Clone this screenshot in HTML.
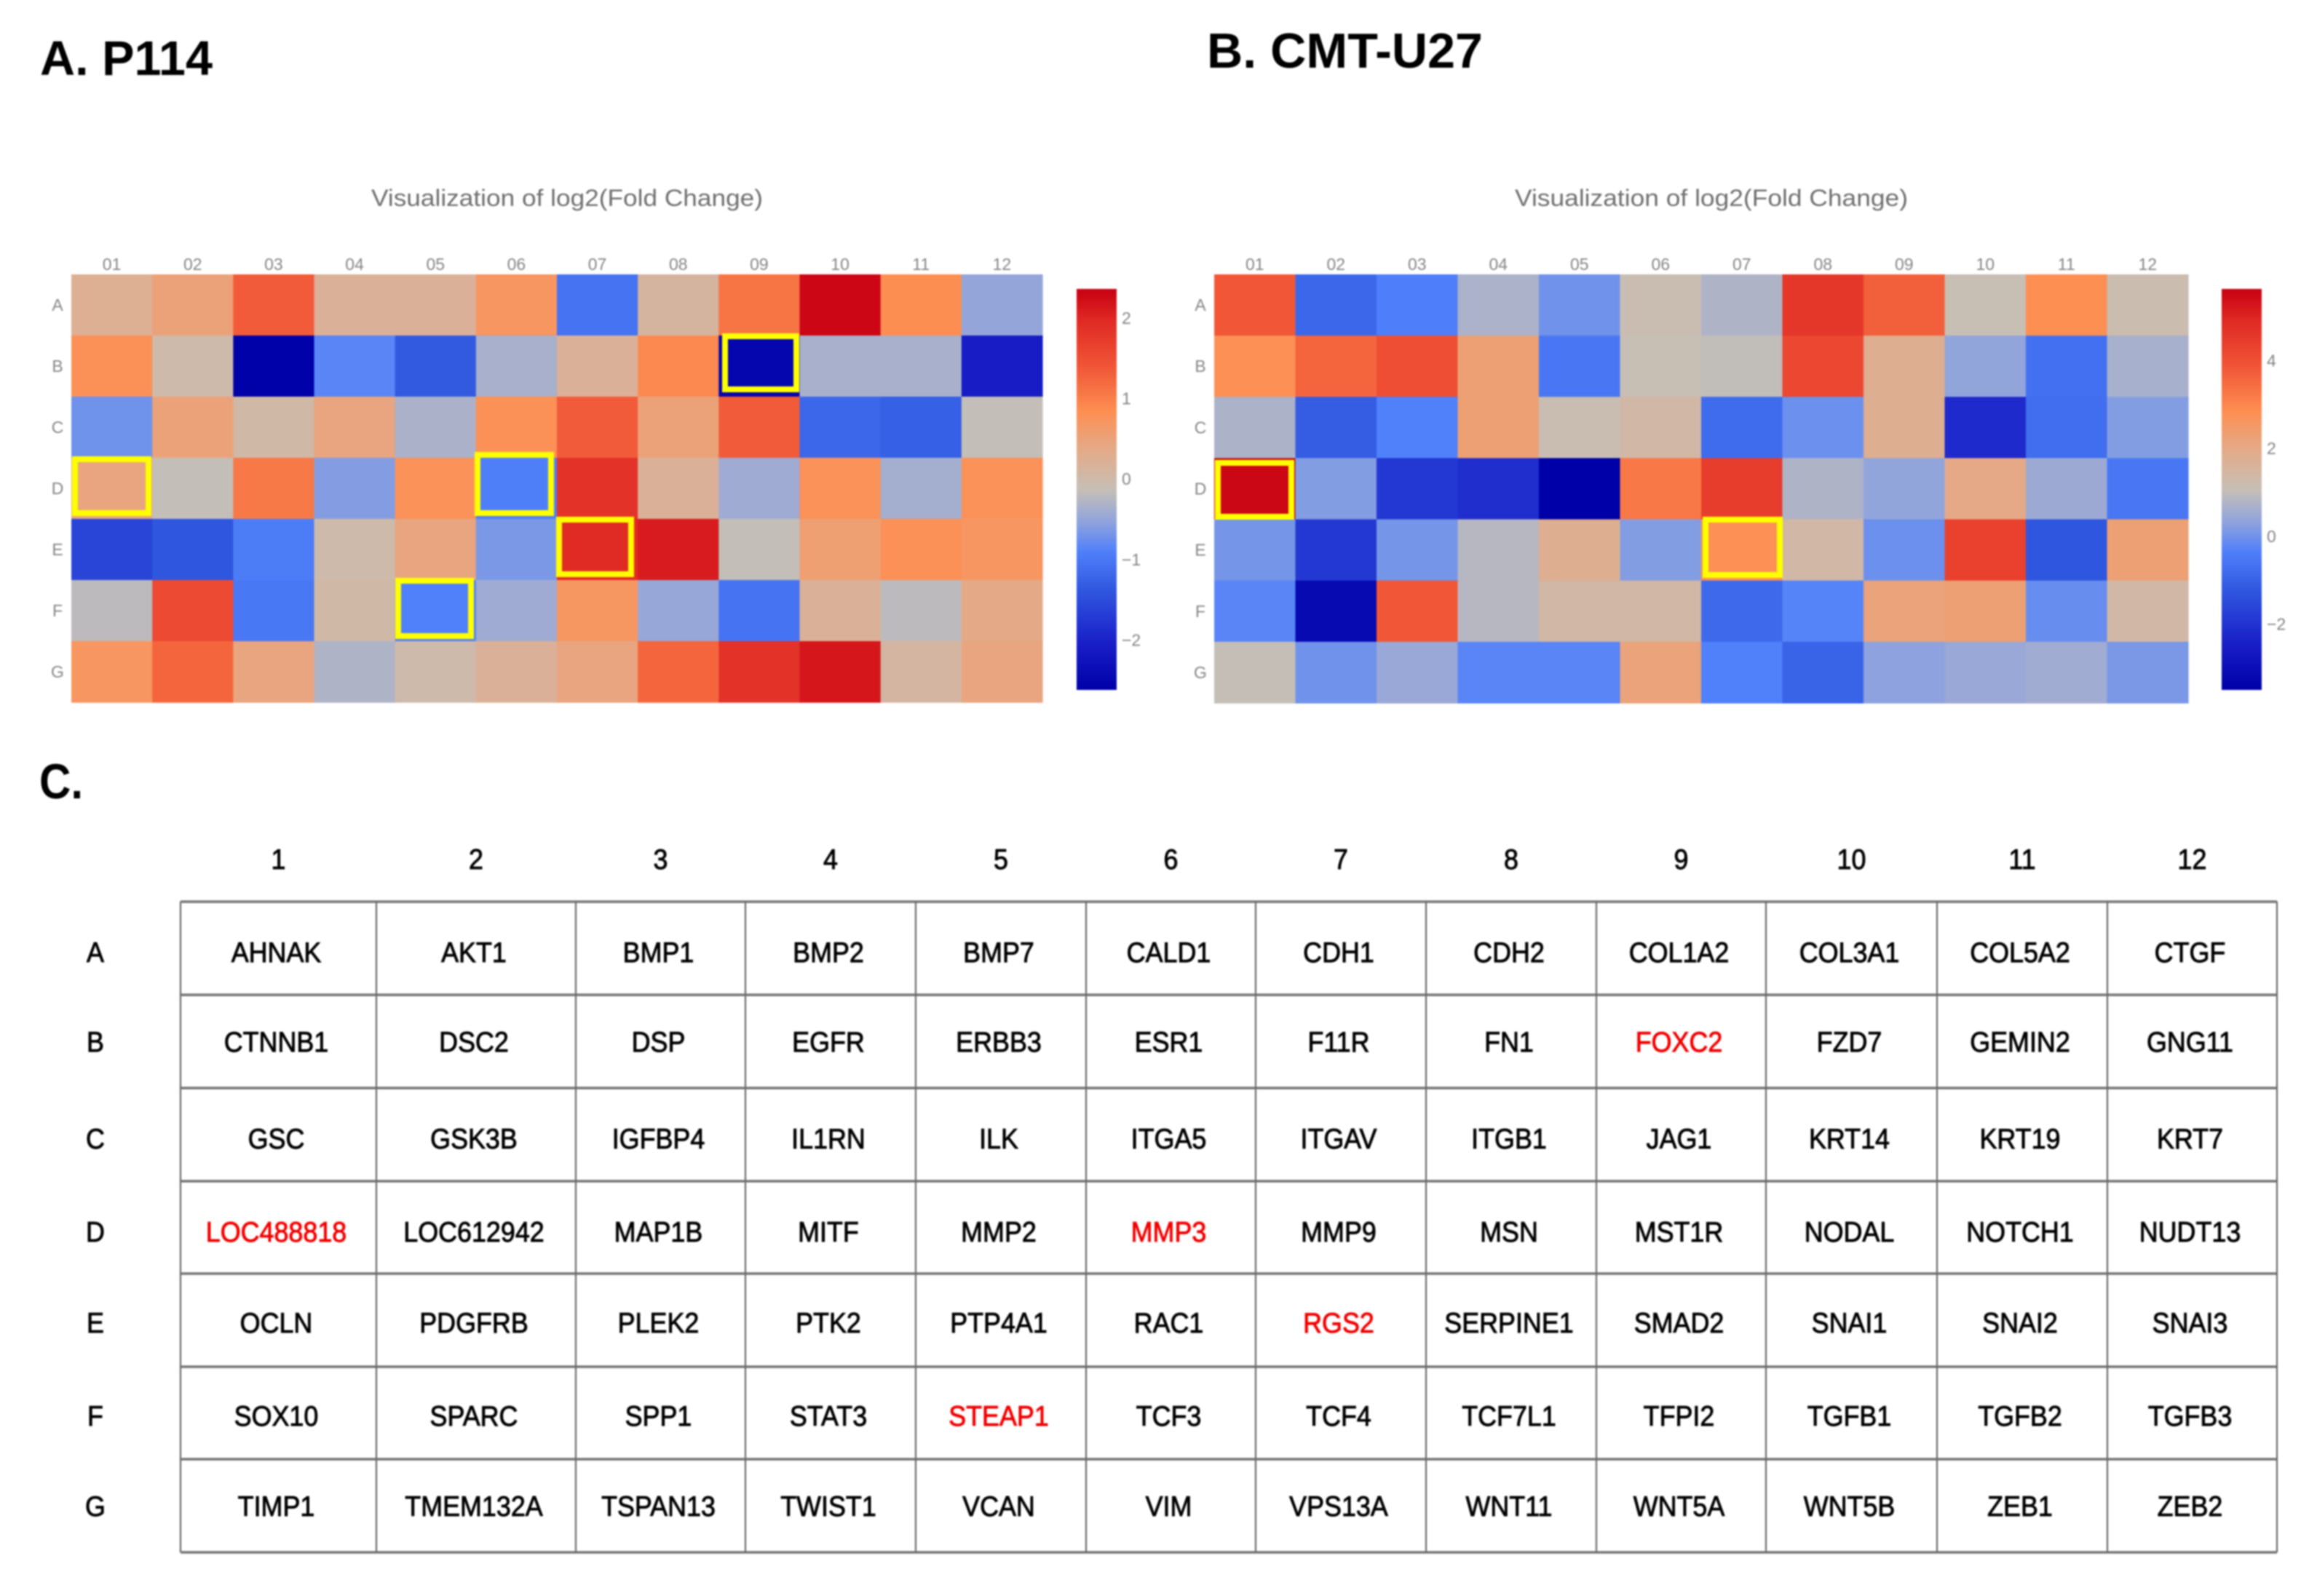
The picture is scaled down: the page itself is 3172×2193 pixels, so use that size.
<!DOCTYPE html>
<html lang="en">
<head>
<meta charset="utf-8">
<title>log2(Fold Change) heatmaps for P114 and CMT-U27</title>
<style>
html,body{margin:0;padding:0;background:#fff;}
body{width:3172px;height:2193px;overflow:hidden;}
svg{display:block;filter:blur(1.1px);}
text{font-family:"Liberation Sans",sans-serif;}
</style>
</head>
<body>
<svg id="figure" xmlns="http://www.w3.org/2000/svg" width="3172" height="2193" viewBox="0 0 3172 2193">
  <defs>
    <linearGradient id="cbar" x1="0" y1="1" x2="0" y2="0"></linearGradient>
  </defs>
  <rect width="3172" height="2193" fill="#fff"/>
  <text x="55" y="103" font-size="67" font-weight="bold" textLength="237" lengthAdjust="spacingAndGlyphs" fill="#000">A. P114</text>
  <text x="1658" y="93" font-size="68" font-weight="bold" textLength="379" lengthAdjust="spacingAndGlyphs" fill="#000">B. CMT-U27</text>
  <text x="54" y="1097" font-size="68" font-weight="bold" textLength="60" lengthAdjust="spacingAndGlyphs" fill="#000">C.</text>
  <text x="510" y="283" font-size="32" textLength="538" lengthAdjust="spacingAndGlyphs" fill="#6f6f6f">Visualization of log2(Fold Change)</text>
  <text x="2081" y="283" font-size="32" textLength="540" lengthAdjust="spacingAndGlyphs" fill="#6f6f6f">Visualization of log2(Fold Change)</text>
  <g id="heatmapA"></g>
  <g id="heatmapB"></g>
  <g id="highlights" fill="none" stroke="#ffff00" stroke-width="8">
    <rect x="996" y="462" width="98" height="73"/>
    <rect x="103" y="631" width="101" height="74"/>
    <rect x="656" y="625" width="101" height="80"/>
    <rect x="768" y="714" width="99" height="75"/>
    <rect x="547" y="798" width="100" height="76"/>
    <rect x="1673" y="636" width="101" height="74"/>
    <rect x="2343" y="714" width="102" height="76"/>
  </g>
  <g id="geneTable"></g>
</svg>
<script>
// ---- Shared heatmap categories ----
const columnLabels = ["01","02","03","04","05","06","07","08","09","10","11","12"];
const rowLabels = ["A","B","C","D","E","F","G"];

// ---- Panel A values: log2(fold change) for P114 ----
const valuesA = [
  [0.25,0.5,1.35,0.2,0.2,0.72,-1.05,0.12,1.1,2.3,0.85,-0.5],
  [0.8,0.0,-2.6,-0.85,-1.35,-0.35,0.2,0.9,-2.5,-0.35,-0.35,-2.1],
  [-0.72,0.5,0.03,0.45,-0.33,0.8,1.35,0.5,1.35,-1.2,-1.28,-0.15],
  [0.45,-0.15,1.05,-0.6,0.78,-0.92,1.85,0.2,-0.42,0.78,-0.38,0.78],
  [-1.6,-1.4,-0.95,0.0,0.45,-0.65,1.95,2.1,-0.15,0.55,0.8,0.72],
  [-0.2,1.55,-1.0,0.03,-0.9,-0.42,0.7,-0.48,-1.05,0.2,-0.2,0.37],
  [0.72,1.25,0.45,-0.3,0.0,0.2,0.45,1.25,1.85,2.15,0.1,0.45]
];
const rangeA = [-2.62, 2.36];
const ticksA = [2,1,0,-1,-2];

// ---- Panel B values: log2(fold change) for CMT-U27 ----
const valuesB = [
  [3.85,-0.9,-0.4,0.7,0.0,1.15,0.75,4.6,3.7,1.1,2.85,1.2],
  [2.8,3.6,4.05,2.3,-0.55,1.1,1.0,4.2,1.8,0.35,-0.7,0.65],
  [0.72,-1.1,-0.35,2.3,1.15,1.4,-0.8,-0.05,1.8,-2.2,-0.75,0.2],
  [5.5,0.2,-1.9,-2.1,-3.5,3.25,4.45,0.75,0.35,2.0,0.5,-0.55],
  [0.05,-1.9,0.05,0.85,1.8,0.2,2.8,1.4,-0.05,4.35,-1.25,2.3],
  [-0.25,-3.2,3.85,0.85,1.4,1.4,-0.85,-0.3,2.2,2.3,-0.1,1.4],
  [1.05,0.0,0.45,-0.25,-0.25,2.2,-0.35,-0.95,0.3,0.45,0.55,0.1]
];
const rangeB = [-3.5, 5.63];
const ticksB = [4,2,0,-2];

// ---- Colour scale (fraction of range, colour) ----
const colorFractions = [0,0.12,0.25,0.345,0.42,0.5,0.6,0.695,0.81,0.92,1];
const colorHexes = ["#0000a8","#1a20c8","#3058e0","#5080fa","#90a4dc","#c6bfb6","#e4aa88","#fd8f52","#f05436","#e02a24","#c80012"];

// ---- Table contents ----
const tableColumnLabels = ["1","2","3","4","5","6","7","8","9","10","11","12"];
const geneNames = [
  ["AHNAK","AKT1","BMP1","BMP2","BMP7","CALD1","CDH1","CDH2","COL1A2","COL3A1","COL5A2","CTGF"],
  ["CTNNB1","DSC2","DSP","EGFR","ERBB3","ESR1","F11R","FN1","FOXC2","FZD7","GEMIN2","GNG11"],
  ["GSC","GSK3B","IGFBP4","IL1RN","ILK","ITGA5","ITGAV","ITGB1","JAG1","KRT14","KRT19","KRT7"],
  ["LOC488818","LOC612942","MAP1B","MITF","MMP2","MMP3","MMP9","MSN","MST1R","NODAL","NOTCH1","NUDT13"],
  ["OCLN","PDGFRB","PLEK2","PTK2","PTP4A1","RAC1","RGS2","SERPINE1","SMAD2","SNAI1","SNAI2","SNAI3"],
  ["SOX10","SPARC","SPP1","STAT3","STEAP1","TCF3","TCF4","TCF7L1","TFPI2","TGFB1","TGFB2","TGFB3"],
  ["TIMP1","TMEM132A","TSPAN13","TWIST1","VCAN","VIM","VPS13A","WNT11","WNT5A","WNT5B","ZEB1","ZEB2"]
];
const redGenes = ["LOC488818","MMP3","RGS2","FOXC2","STEAP1"];
const tableColEdges = [248,517,791,1024,1258,1492,1725,1959,2193,2426,2661,2895,3128];
const tableRowEdges = [1239,1367,1495,1623,1750,1878,2005,2133];
const tableTextCentres = [1308,1431,1564,1692,1817,1945,2069];

const NS = "http://www.w3.org/2000/svg";
function make(tag, attrs, parent, text){
  const n = document.createElementNS(NS, tag);
  for (const k in attrs) n.setAttribute(k, attrs[k]);
  if (text !== undefined) n.textContent = text;
  parent.appendChild(n);
  return n;
}
function hexToRgb(h){ return [1,3,5].map(i => parseInt(h.substr(i,2),16)); }
function colorAt(t){
  t = Math.max(0, Math.min(1, t));
  for (let i = 1; i < colorFractions.length; i++){
    if (t <= colorFractions[i]){
      const f = (t - colorFractions[i-1]) / (colorFractions[i] - colorFractions[i-1]);
      const a = hexToRgb(colorHexes[i-1]), b = hexToRgb(colorHexes[i]);
      return "rgb(" + a.map((v,j) => Math.round(v + (b[j]-v)*f)).join(",") + ")";
    }
  }
  return colorHexes[colorHexes.length-1];
}

// Gradient for colour bars
const grad = document.getElementById("cbar");
colorFractions.forEach((f,i) => make("stop", {offset:f, "stop-color":colorHexes[i]}, grad));

function drawHeatmap(groupId, prefix, values, range, ticks, box, bar){
  const g = document.getElementById(groupId);
  const xScale = c => box.left + (box.right - box.left) * c / columnLabels.length;
  const yScale = r => box.top + (box.bottom - box.top) * r / rowLabels.length;
  const cw = (box.right - box.left) / columnLabels.length;
  const ch = (box.bottom - box.top) / rowLabels.length;
  const frac = v => (v - range[0]) / (range[1] - range[0]);
  const barY = v => bar.bottom - (bar.bottom - bar.top) * frac(v);

  values.forEach((row, r) => {
    row.forEach((v, c) => {
      const cell = make("rect", {x:xScale(c), y:yScale(r), width:cw+0.6, height:ch+0.6, fill:colorAt(frac(v))}, g);
      
      
    });
  });
  columnLabels.forEach((lab, c) => {
    const t = make("text", {x:xScale(c)+cw/2, y:box.top-6, "text-anchor":"middle", "font-size":23, fill:"#858585"}, g, lab);
    
    
  });
  rowLabels.forEach((lab, r) => {
    const t = make("text", {x:box.left-19, y:yScale(r)+ch/2+8, "text-anchor":"middle", "font-size":23, fill:"#858585"}, g, lab);
    
    
  });
  const cb = make("rect", {x:bar.left, y:bar.top, width:bar.right-bar.left, height:bar.bottom-bar.top, fill:"url(#cbar)"}, g);
  
  
  ticks.forEach(v => {
    const label = v < 0 ? "\u2212" + Math.abs(v) : String(v);
    const t = make("text", {x:bar.right+7, y:barY(v)+8, "font-size":23, fill:"#858585"}, g, label);
    
    
  });
}

drawHeatmap("heatmapA", "heatmap-a", valuesA, rangeA, ticksA,
  {left:98, right:1432, top:377, bottom:965}, {left:1479, right:1534, top:397, bottom:948});
drawHeatmap("heatmapB", "heatmap-b", valuesB, rangeB, ticksB,
  {left:1668, right:3006, top:377, bottom:966}, {left:3052, right:3107, top:397, bottom:948});

// Gene table
const tbl = document.getElementById("geneTable");
tableRowEdges.forEach(y => {
  const l = make("line", {x1:248, x2:3128, y1:y, y2:y, stroke:"#757575", "stroke-width":3.6}, tbl);
  
  
});
tableColEdges.forEach(x => {
  const l = make("line", {x1:x, x2:x, y1:1239, y2:2133, stroke:"#6a6a6a", "stroke-width":2.2}, tbl);
  
  
});
function label(x, yCentre, str, fill, parent){
  return make("text", {transform:"translate(" + x + "," + (yCentre + 14) + ") scale(0.92,1)", "text-anchor":"middle", "font-size":39, fill:fill, stroke:fill, "stroke-width":0.9}, parent, str);
}
tableColumnLabels.forEach((lab, c) => {
  const cx = (tableColEdges[c] + tableColEdges[c+1]) / 2;
  const t = label(cx, 1180, lab, "#000", tbl);
  
  
});
rowLabels.forEach((lab, r) => {
  const t = label(131, tableTextCentres[r], lab, "#000", tbl);
  
  
});
geneNames.forEach((row, r) => {
  row.forEach((name, c) => {
    const cx = (tableColEdges[c] + tableColEdges[c+1]) / 2 - 3;
    const t = label(cx, tableTextCentres[r], name, redGenes.includes(name) ? "#f00000" : "#000", tbl);
    
    
  });
});
</script>
</body>
</html>
